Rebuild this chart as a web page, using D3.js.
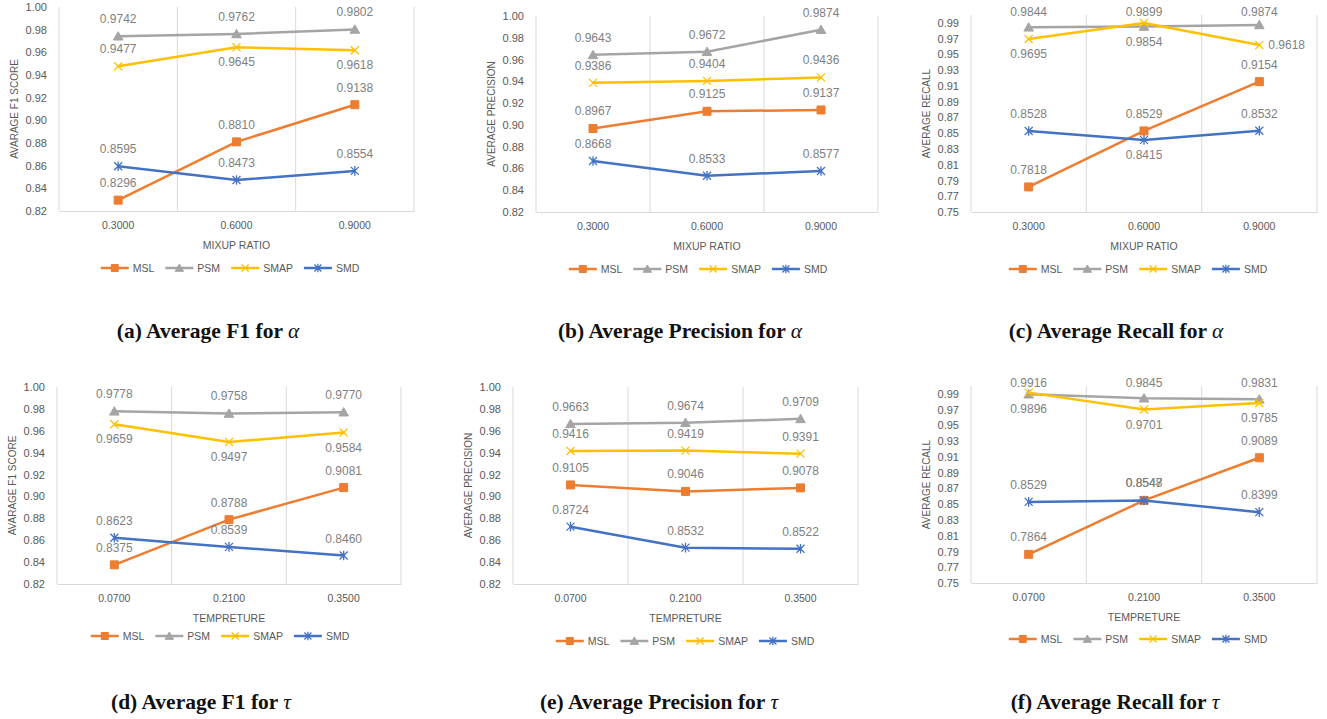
<!DOCTYPE html>
<html>
<head>
<meta charset="utf-8">
<script src="https://cdn.jsdelivr.net/npm/d3@7"></script>
<style>
  html, body { margin: 0; padding: 0; background: #fff; }
  svg { display: block; }
</style>
</head>
<body>
<svg id="fig" width="1327" height="719"></svg>
<script>
// ---- Data ----
const seriesNames = ["MSL", "PSM", "SMAP", "SMD"];
const alphaTicks = ["0.3000", "0.6000", "0.9000"];
const tauTicks = ["0.0700", "0.2100", "0.3500"];

// values per series, in seriesNames order
const f1Alpha = [
  [0.8296, 0.8810, 0.9138],
  [0.9742, 0.9762, 0.9802],
  [0.9477, 0.9645, 0.9618],
  [0.8595, 0.8473, 0.8554]
];
const precisionAlpha = [
  [0.8967, 0.9125, 0.9137],
  [0.9643, 0.9672, 0.9874],
  [0.9386, 0.9404, 0.9436],
  [0.8668, 0.8533, 0.8577]
];
const recallAlpha = [
  [0.7818, 0.8529, 0.9154],
  [0.9844, 0.9854, 0.9874],
  [0.9695, 0.9899, 0.9618],
  [0.8528, 0.8415, 0.8532]
];
const f1Tau = [
  [0.8375, 0.8788, 0.9081],
  [0.9778, 0.9758, 0.9770],
  [0.9659, 0.9497, 0.9584],
  [0.8623, 0.8539, 0.8460]
];
const precisionTau = [
  [0.9105, 0.9046, 0.9078],
  [0.9663, 0.9674, 0.9709],
  [0.9416, 0.9419, 0.9391],
  [0.8724, 0.8532, 0.8522]
];
const recallTau = [
  [0.7864, 0.8548, 0.9089],
  [0.9896, 0.9845, 0.9831],
  [0.9916, 0.9701, 0.9785],
  [0.8529, 0.8547, 0.8399]
];

// where each value label sits relative to its point: a = above, b = below, r = right
const allAbove = [["a","a","a"],["a","a","a"],["a","a","a"],["a","a","a"]];
const f1AlphaLabelPos = [["a","a","a"],["a","a","a"],["a","b","b"],["a","a","a"]];
const recallAlphaLabelPos = [["a","a","a"],["a","b","a"],["b","a","r"],["a","b","a"]];
const f1TauLabelPos = [["a","a","a"],["a","a","a"],["b","b","b"],["a","a","a"]];
const recallTauLabelPos = [["a","a","a"],["b","a","a"],["a","b","b"],["a","a","a"]];

// ---- Styling ----
const colors = { MSL: "#ED7D31", PSM: "#A5A5A5", SMAP: "#FFC000", SMD: "#4472C4" };
const FONT = "'Liberation Sans', Arial, sans-serif";
const SERIF = "'Liberation Serif', 'Times New Roman', serif";

const panels = [
  { values: f1Alpha, labels: f1AlphaLabelPos, ticks: alphaTicks, yTitle: "AVARAGE F1 SCORE", xTitle: "MIXUP RATIO",
    domain: [0.82, 1.00], yTickVals: d3.range(0.82, 1.001, 0.02),
    x0: 59, x1: 414, yTop: 7, yBot: 211, legendY: 268, legendCx: 230,
    caption: "(a) Average F1 for ", sym: "α", capX: 208, capY: 331 },
  { values: precisionAlpha, labels: allAbove, ticks: alphaTicks, yTitle: "AVERAGE PRECISION", xTitle: "MIXUP RATIO",
    domain: [0.82, 1.00], yTickVals: d3.range(0.82, 1.001, 0.02),
    x0: 536, x1: 878, yTop: 16, yBot: 212, legendY: 269, legendCx: 698,
    caption: "(b) Average Precision for ", sym: "α", capX: 680, capY: 331 },
  { values: recallAlpha, labels: recallAlphaLabelPos, ticks: alphaTicks, yTitle: "AVERAGE RECALL", xTitle: "MIXUP RATIO",
    domain: [0.75, 1.00], yTickVals: d3.range(0.75, 0.991, 0.02),
    x0: 971, x1: 1317, yTop: 15, yBot: 212, legendY: 269, legendCx: 1138,
    caption: "(c) Average Recall for ", sym: "α", capX: 1116, capY: 331 },
  { values: f1Tau, labels: f1TauLabelPos, ticks: tauTicks, yTitle: "AVARAGE F1 SCORE", xTitle: "TEMPRETURE",
    domain: [0.82, 1.00], yTickVals: d3.range(0.82, 1.001, 0.02),
    x0: 57, x1: 401, yTop: 387, yBot: 584, legendY: 636, legendCx: 220,
    caption: "(d) Average F1 for ", sym: "τ", capX: 201, capY: 702 },
  { values: precisionTau, labels: allAbove, ticks: tauTicks, yTitle: "AVERAGE PRECISION", xTitle: "TEMPRETURE",
    domain: [0.82, 1.00], yTickVals: d3.range(0.82, 1.001, 0.02),
    x0: 513, x1: 858, yTop: 387, yBot: 584, legendY: 641, legendCx: 685,
    caption: "(e) Average Precision for ", sym: "τ", capX: 659, capY: 702 },
  { values: recallTau, labels: recallTauLabelPos, ticks: tauTicks, yTitle: "AVERAGE RECALL", xTitle: "TEMPRETURE",
    domain: [0.75, 1.00], yTickVals: d3.range(0.75, 0.991, 0.02),
    x0: 971, x1: 1317, yTop: 386, yBot: 583, legendY: 639, legendCx: 1138,
    caption: "(f) Average Recall for ", sym: "τ", capX: 1115, capY: 702 }
];

// marker shapes (centered at 0,0)
function markerPath(name, s) {
  switch (name) {
    case "MSL": return `M${-s},${-s}H${s}V${s}H${-s}Z`;
    case "PSM": return `M0,${-s * 1.15}L${s * 1.2},${s * 0.95}L${-s * 1.2},${s * 0.95}Z`;
    case "SMAP": return `M${-s},${-s}L${s},${s}M${-s},${s}L${s},${-s}`;
    case "SMD": return `M${-s},${-s}L${s},${s}M${-s},${s}L${s},${-s}M0,${-s * 1.2}V${s * 1.2}`;
  }
}
function styleMarker(sel, name) {
  const c = colors[name];
  if (name === "MSL" || name === "PSM") sel.attr("fill", c).attr("stroke", c).attr("stroke-width", 1);
  else sel.attr("fill", "none").attr("stroke", c).attr("stroke-width", 1.3);
}

const svg = d3.select("#fig");

panels.forEach(p => {
  const g = svg.append("g");
  const x = d3.scaleBand().domain(p.ticks).range([p.x0, p.x1]);
  const y = d3.scaleLinear().domain(p.domain).range([p.yBot, p.yTop]);

  // vertical gridlines at category boundaries
  const bounds = p.ticks.map(t => x(t)).concat([p.x1]);
  g.selectAll("line.grid").data(bounds).join("line")
    .attr("x1", d => d).attr("x2", d => d)
    .attr("y1", p.yTop).attr("y2", p.yBot)
    .attr("stroke", "#d9d9d9").attr("stroke-width", 1);

  // bottom axis
  const xAxis = g.append("g").attr("transform", `translate(0,${p.yBot})`)
    .call(d3.axisBottom(x).tickSize(0).tickPadding(15));
  xAxis.select(".domain").attr("stroke", "#d9d9d9").attr("stroke-width", 1);
  xAxis.selectAll("text").attr("font-family", FONT).attr("font-size", 10.5)
    .attr("fill", "#595959").attr("dy", "0.32em").attr("y", 15);

  // left tick labels
  const yAxis = g.append("g").attr("transform", `translate(${p.x0},0)`)
    .call(d3.axisLeft(y).tickValues(p.yTickVals).tickFormat(d3.format(".2f")).tickSize(0).tickPadding(12));
  yAxis.select(".domain").remove();
  yAxis.selectAll("text").attr("font-family", FONT).attr("font-size", 11).attr("fill", "#595959");

  // axis titles
  g.append("text")
    .attr("transform", `translate(${p.x0 - 45},${(p.yTop + p.yBot) / 2}) rotate(-90)`)
    .attr("text-anchor", "middle").attr("dominant-baseline", "central")
    .attr("font-family", FONT).attr("font-size", 10).attr("fill", "#595959")
    .text(p.yTitle);
  g.append("text")
    .attr("x", (p.x0 + p.x1) / 2).attr("y", p.yBot + 34)
    .attr("text-anchor", "middle").attr("dominant-baseline", "central")
    .attr("font-family", FONT).attr("font-size", 10.5).attr("fill", "#595959")
    .text(p.xTitle);

  const cx = t => x(t) + x.bandwidth() / 2;
  const line = d3.line().x((d, i) => cx(p.ticks[i])).y(d => y(d));

  // series lines and markers
  seriesNames.forEach((name, si) => {
    const vals = p.values[si];
    g.append("path").datum(vals)
      .attr("d", line).attr("fill", "none")
      .attr("stroke", colors[name]).attr("stroke-width", 2.5)
      .attr("stroke-linejoin", "round").attr("stroke-linecap", "round");
    g.selectAll(null).data(vals).join("path")
      .attr("transform", (d, i) => `translate(${cx(p.ticks[i])},${y(d)})`)
      .attr("d", markerPath(name, 4))
      .call(styleMarker, name);
  });

  // value labels
  seriesNames.forEach((name, si) => {
    const vals = p.values[si];
    vals.forEach((v, i) => {
      const pos = p.labels[si][i];
      const px = cx(p.ticks[i]), py = y(v);
      let lx = px, ly = py, anchor = "middle";
      if (pos === "a") ly = Math.max(py - 17, p.yTop - 3);
      else if (pos === "b") ly = py + 15;
      else { lx = px + 9; anchor = "start"; }
      g.append("text")
        .attr("x", lx).attr("y", ly)
        .attr("text-anchor", anchor).attr("dominant-baseline", "central")
        .attr("font-family", FONT).attr("font-size", 12).attr("fill", "#7f7f7f")
        .text(d3.format(".4f")(v));
    });
  });

  // legend
  const lg = g.append("g");
  const entries = seriesNames.map(name => {
    const eg = lg.append("g");
    eg.append("line").attr("x1", 0).attr("x2", 28).attr("y1", 0).attr("y2", 0)
      .attr("stroke", colors[name]).attr("stroke-width", 2.5);
    eg.append("path").attr("transform", "translate(14,0)")
      .attr("d", markerPath(name, 3.5)).call(styleMarker, name);
    const t = eg.append("text").attr("x", 32).attr("y", 0)
      .attr("dominant-baseline", "central")
      .attr("font-family", FONT).attr("font-size", 10.5).attr("fill", "#595959")
      .text(name);
    return { eg, w: 32 + t.node().getComputedTextLength() };
  });
  const gap = 11;
  const total = d3.sum(entries, e => e.w) + gap * (entries.length - 1);
  let off = p.legendCx - total / 2;
  entries.forEach(e => {
    e.eg.attr("transform", `translate(${off},${p.legendY})`);
    off += e.w + gap;
  });

  // caption
  const cap = svg.append("text")
    .attr("x", p.capX).attr("y", p.capY)
    .attr("text-anchor", "middle").attr("dominant-baseline", "central")
    .attr("font-family", SERIF).attr("font-size", 21.5).attr("font-weight", "bold").attr("fill", "#111");
  cap.append("tspan").text(p.caption);
  cap.append("tspan").attr("font-style", "italic").attr("font-weight", "normal").text(p.sym);
});
</script>
</body>
</html>
